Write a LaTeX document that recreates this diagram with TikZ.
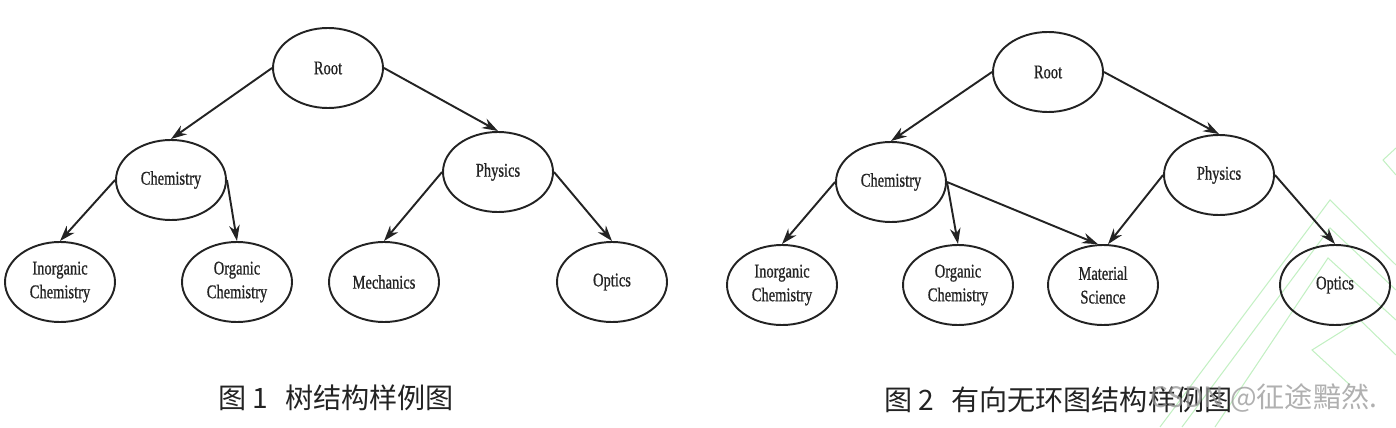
\documentclass[tikz,border=0pt]{standalone}
\usepackage{fontspec}
\usepackage{tikz}
\usetikzlibrary{arrows.meta,positioning,shapes.geometric}
\newfontfamily\nodefont[FakeStretch=0.75,FakeBold=0.8]{Liberation Serif}
\newfontfamily\cjk{Noto Sans CJK SC}
\definecolor{inkC}{RGB}{35,35,35}
\definecolor{markC}{RGB}{150,150,150}
\definecolor{leafG}{RGB}{195,240,195}

\begin{document}
\begin{tikzpicture}[
    topic/.style={ellipse,draw=inkC,line width=1.1pt,minimum width=2.2cm,
      minimum height=1.6cm,inner sep=0pt,align=center,text=inkC,
      font=\nodefont\fontsize{11}{13.5}\selectfont},
    link/.style={-{Stealth[length=9pt,width=6pt]},line width=1.1pt,draw=inkC},
    caption/.style={font=\cjk\fontsize{16}{19}\selectfont,text=inkC,inner sep=0pt}]
  \useasboundingbox (0,0) rectangle (27.92,8.54);
  % faint background pattern, bottom right
  \begin{scope}[leafG,line width=0.6pt]
    \draw (23.2,0) -- (26.6,4.54) -- (27.92,3.24);
    \draw (23.64,0) -- (26.6,3.98) -- (27.92,2.74);
    \draw (24.3,0) -- (26.56,3.38) -- (27.92,2.14);
    \draw (27.0,0.84) -- (26.24,1.54) -- (27.2,2.14) -- (27.92,1.44);
    \draw (27.92,5.58) -- (27.66,5.34) -- (27.92,5.04);
  \end{scope}
  % figure 1: the tree
  \node[topic] (root1)  at (6.56,7.18) {Root};
  \node[topic] (chem1)  at (3.42,4.94) {Chemistry};
  \node[topic] (phys1)  at (9.96,5.10) {Physics};
  \node[topic] (inorg1) at (1.20,2.90) {Inorganic\\Chemistry};
  \node[topic] (org1)   at (4.74,2.90) {Organic\\Chemistry};
  \node[topic] (mech1)  at (7.68,2.90) {Mechanics};
  \node[topic] (opt1)   at (12.24,2.90) {Optics};
  \draw[link] (root1.west) -- (chem1.north);
  \draw[link] (root1.east) -- (phys1.north);
  \draw[link] (chem1.west) -- (inorg1.north);
  \draw[link] (chem1.east) -- (org1.north);
  \draw[link] (phys1.west) -- (mech1.north);
  \draw[link] (phys1.east) -- (opt1.north);
  \node[caption] (cap1) at (6.72,0.58) {图 1\hspace{0.6em}树结构样例图};
  % figure 2: the DAG
  \node[topic] (root2)  at (20.96,7.10) {Root};
  \node[topic] (chem2)  at (17.82,4.90) {Chemistry};
  \node[topic] (phys2)  at (24.38,5.04) {Physics};
  \node[topic] (inorg2) at (15.64,2.84) {Inorganic\\Chemistry};
  \node[topic] (org2)   at (19.16,2.84) {Organic\\Chemistry};
  \node[topic] (mat2)   at (22.06,2.84) {Material\\Science};
  \node[topic] (opt2)   at (26.70,2.84) {Optics};
  \draw[link] (root2.west) -- (chem2.north);
  \draw[link] (root2.east) -- (phys2.north);
  \draw[link] (chem2.west) -- (inorg2.north);
  \draw[link] (chem2.east) -- (org2.north);
  \draw[link] (chem2.east) -- (mat2.97);
  \draw[link] (phys2.west) -- (mat2.83);
  \draw[link] (phys2.east) -- (opt2.north);
  \node[caption,anchor=west] (cap2) at (17.68,0.54) {图 2\hspace{0.6em}有向无环图结构样例图};
  \node[caption,anchor=west,text=markC,opacity=0.75] (mark) at (23.0,0.58) {CSDN @征途黯然.};
\end{tikzpicture}
\end{document}
